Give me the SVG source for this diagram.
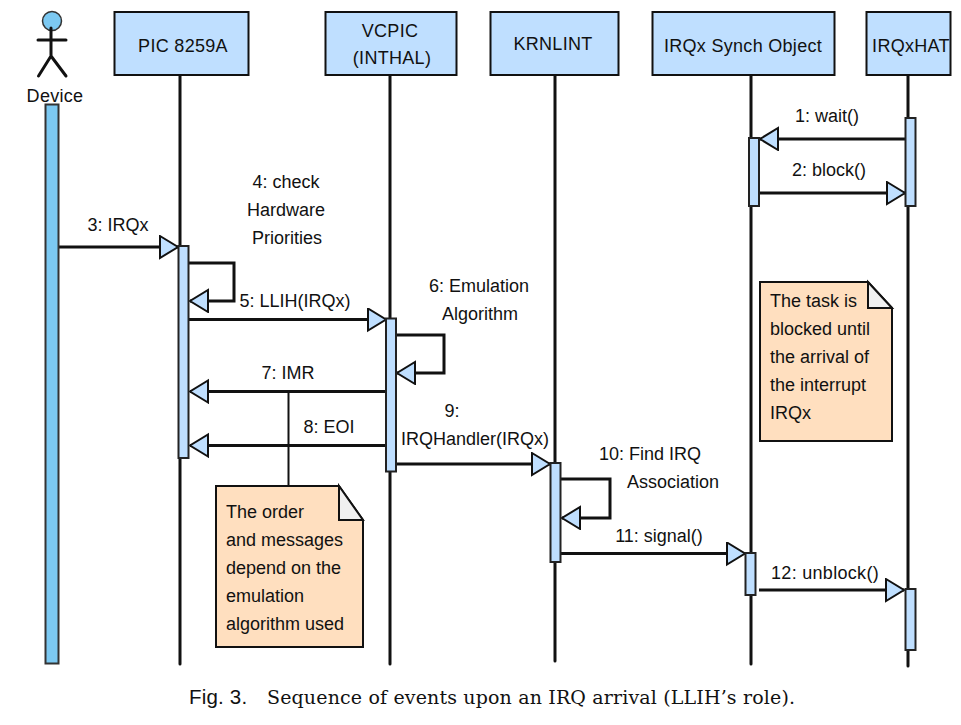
<svg xmlns="http://www.w3.org/2000/svg" width="961" height="725" viewBox="0 0 961 725">
<defs>
<style>
text{font-family:"Liberation Sans",Arial,sans-serif;font-size:18px;fill:#111}
.m{text-anchor:middle}
.t{letter-spacing:.3px}
.box{fill:#bfdfff;stroke:#111;stroke-width:2}
.act{fill:#bfdfff;stroke:#222;stroke-width:2}
.life{stroke:#111;stroke-width:3;fill:none;stroke-linecap:round}
.msg{stroke:#111;stroke-width:3;fill:none}
.note{fill:#ffdfbf;stroke:#111;stroke-width:2}
.fold{fill:#f0f0f0;stroke:#111;stroke-width:2}
.fig{font-size:20.500px;letter-spacing:.2px}
.cap{font-family:"DejaVu Serif",serif;font-size:19px;letter-spacing:.15px}
</style>
<marker id="a" markerUnits="userSpaceOnUse" markerWidth="22" markerHeight="26" refX="19" refY="12" orient="auto-start-reverse">
<path d="M1 1 L19 12 L1 23 Z" fill="#bfdfff" stroke="#111" stroke-width="2"/>
</marker>
</defs>
<g id="connectors">
<path class="life" d="M180 72V664M390 72V664M555 72V661M751 72V664M908 72V666"/>
<path class="msg" marker-end="url(#a)" d="M906 139H760"/>
<path class="msg" marker-end="url(#a)" d="M759 193H905"/>
<path class="msg" marker-end="url(#a)" d="M59 247H178"/>
<path class="msg" marker-end="url(#a)" d="M189 263H234V301H190"/>
<path class="msg" marker-end="url(#a)" d="M189 319.500H386"/>
<path class="msg" marker-end="url(#a)" d="M396 335H444V373H397"/>
<path class="msg" marker-end="url(#a)" d="M385 391.500H190"/>
<path class="msg" marker-end="url(#a)" d="M385 445.500H190"/>
<path class="msg" marker-end="url(#a)" d="M396 464H550"/>
<path class="msg" marker-end="url(#a)" d="M561 479H610V518H562"/>
<path class="msg" marker-end="url(#a)" d="M561 553.500H745"/>
<path class="msg" marker-end="url(#a)" d="M759 590H904"/>
<path d="M288.500 391V486" stroke="#111" stroke-width="2" fill="none"/>
</g>
<g id="device">
<circle cx="52" cy="21" r="9.500" fill="#7cc9f2" stroke="#333" stroke-width="1.500"/>
<path d="M51 28V56M38 40H66M51 56L38.500 76M51 56L66 76" stroke="#111" stroke-width="3" fill="none" stroke-linecap="round"/>
<text x="55" y="102" class="m t">Device</text>
<rect x="45.500" y="104.500" width="13" height="559" fill="#7cc9f2" stroke="#333" stroke-width="2"/>
</g>
<g id="pic"><rect class="box" x="114.500" y="12" width="134" height="63"/><text x="183" y="52" class="m t">PIC 8259A</text></g>
<g id="vcpic"><rect class="box" x="325.500" y="12" width="131" height="63"/><text x="390" y="37" class="m t">VCPIC</text><text x="392" y="64" class="m t">(INTHAL)</text></g>
<g id="krnlint"><rect class="box" x="490.500" y="12" width="128" height="63"/><text x="553" y="50" class="m t">KRNLINT</text></g>
<g id="synch"><rect class="box" x="652.500" y="12" width="182" height="63"/><text x="743" y="52" class="m t">IRQx Synch Object</text></g>
<g id="hat"><rect class="box" x="866.500" y="12" width="84" height="63"/><text x="911" y="52" class="m t">IRQxHAT</text></g>
<g id="activations">
<rect class="act" x="178.500" y="246" width="10" height="212"/>
<rect class="act" x="386" y="318.500" width="10" height="153"/>
<rect class="act" x="550.500" y="463" width="10" height="99"/>
<rect class="act" x="749" y="138" width="10" height="68"/>
<rect class="act" x="905.500" y="118" width="10" height="88"/>
<rect class="act" x="745.500" y="553" width="10" height="42"/>
<rect class="act" x="905.500" y="589" width="10" height="61"/>
</g>
<g id="labels" transform="translate(0 1)">
<text x="827" y="121" class="m">1: wait()</text>
<text x="829" y="175" class="m">2: block()</text>
<text x="118" y="230" class="m">3: IRQx</text>
<text x="286" y="187" class="m">4: check</text>
<text x="286" y="215" class="m">Hardware</text>
<text x="287" y="243" class="m">Priorities</text>
<text x="295" y="306" class="m">5: LLIH(IRQx)</text>
<text x="479" y="291" class="m">6: Emulation</text>
<text x="480" y="319" class="m">Algorithm</text>
<text x="288" y="378" class="m">7: IMR</text>
<text x="329" y="432" class="m">8: EOI</text>
<text x="452" y="416" class="m">9:</text>
<text x="475" y="444" class="m">IRQHandler(IRQx)</text>
<text x="650" y="459" class="m">10: Find IRQ</text>
<text x="673" y="487" class="m">Association</text>
<text x="659" y="541" class="m">11: signal()</text>
<text x="825" y="578" class="m t">12: unblock()</text>
</g>
<g id="note-order">
<path class="note" d="M216 486H339L363 520V647H216Z"/>
<path class="fold" d="M339 486L363 520H339Z"/>
<text x="226" y="518">The order</text>
<text x="226" y="546">and messages</text>
<text x="226" y="574">depend on the</text>
<text x="226" y="602">emulation</text>
<text x="226" y="630">algorithm used</text>
</g>
<g id="note-blocked">
<path class="note" d="M760 282H868L892 308V441H760Z"/>
<path class="fold" d="M868 282L892 308H868Z"/>
<text x="770" y="307">The task is</text>
<text x="770" y="335">blocked until</text>
<text x="770" y="363">the arrival of</text>
<text x="770" y="391">the interrupt</text>
<text x="770" y="419">IRQx</text>
</g>
<text class="fig" x="189" y="704">Fig. 3.</text>
<text class="cap" x="267" y="704">Sequence of events upon an IRQ arrival (LLIH’s role).</text>
</svg>
